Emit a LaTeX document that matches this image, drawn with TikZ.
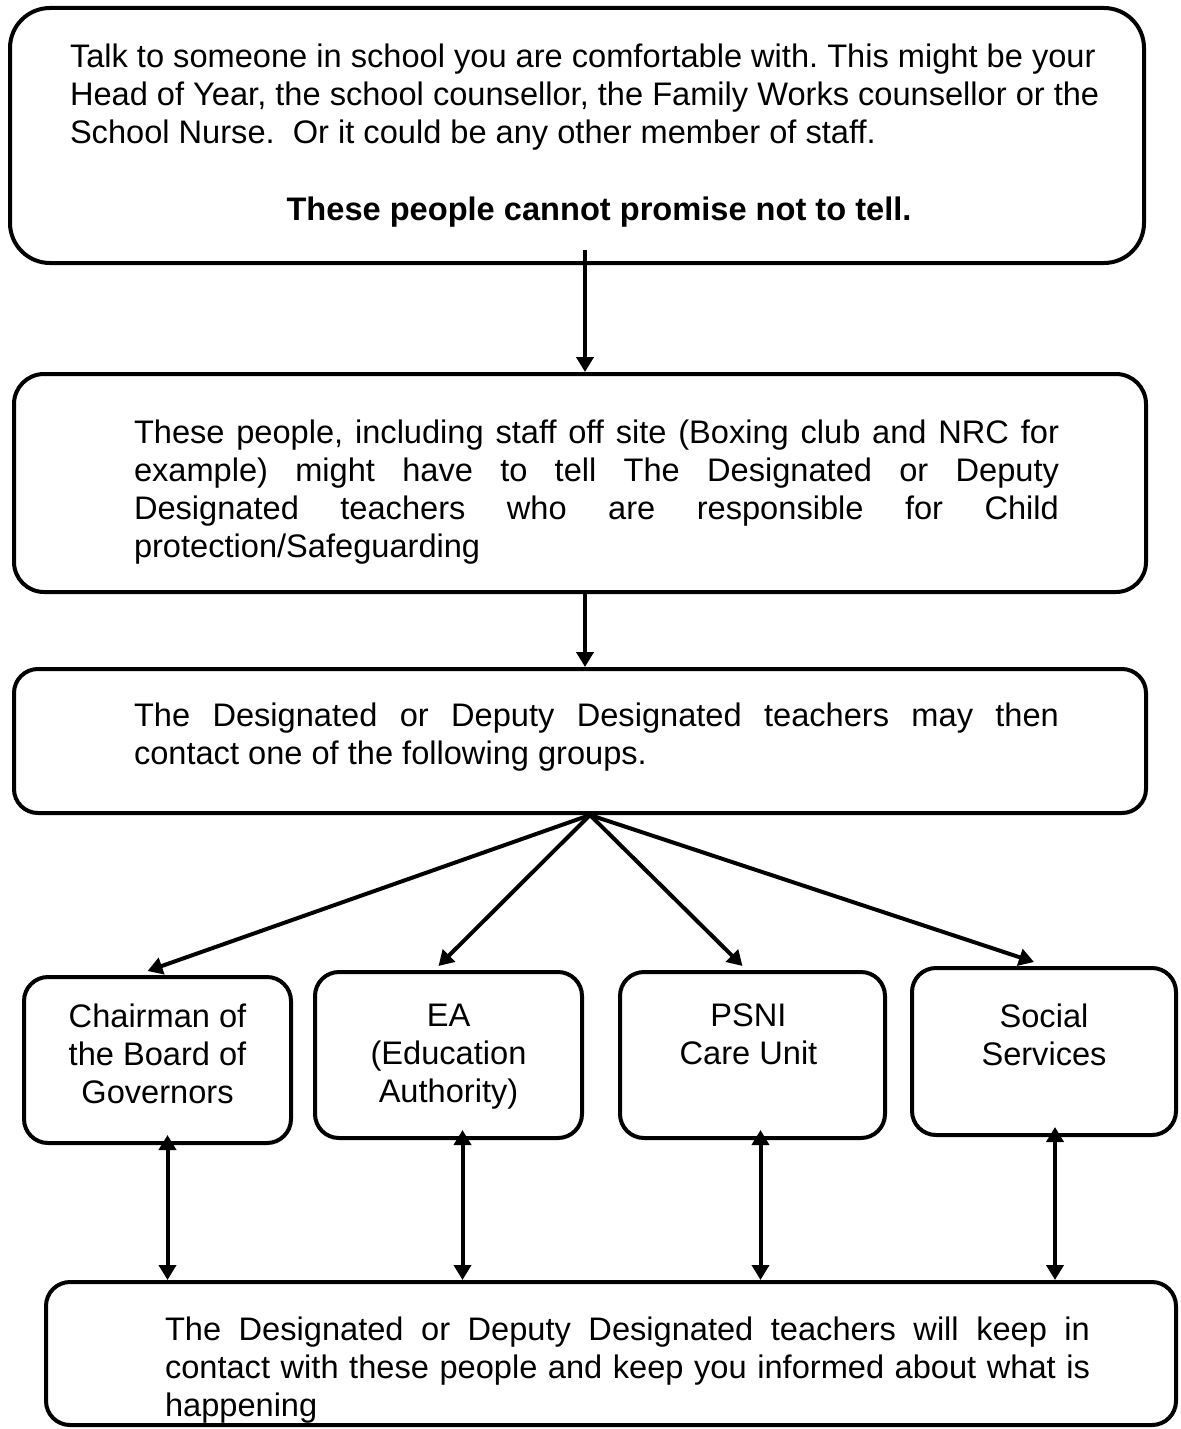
\documentclass[tikz,border=0pt]{standalone}
\usepackage{fontspec}
\setmainfont{Liberation Sans}
\usetikzlibrary{arrows.meta,positioning}
\frenchspacing

\begin{document}
\begin{tikzpicture}[x=0.5pt, y=-0.5pt, line width=2pt,
    >={Triangle[length=7.5pt,width=8.5pt]},
    box/.style={draw, rounded corners=12pt, inner sep=0pt},
    txt/.style={inner sep=0pt, font=\fontsize{16.3}{19}\selectfont},
    para/.style={txt, anchor=north west, text width=462.5pt, align=justify},
    flow/.style={->},
    both/.style={<->}]
  \useasboundingbox (0,0) rectangle (1180,1429);

  % boxes
  \node[box, rounded corners=20pt, minimum width=567pt, minimum height=127.5pt] (b1) at (577,135.5) {};
  \node[box, rounded corners=15pt, minimum width=566pt, minimum height=109pt] (b2) at (580,483) {};
  \node[box, minimum width=566pt, minimum height=72pt] (b3) at (580,741) {};
  \node[box, minimum width=133.5pt, minimum height=83pt] (b4) at (157.5,1060) {};
  \node[box, minimum width=133.5pt, minimum height=83pt] (b5) at (448.5,1055) {};
  \node[box, minimum width=132.5pt, minimum height=83pt] (b6) at (752.5,1055) {};
  \node[box, minimum width=132pt, minimum height=83.5pt] (b7) at (1044,1051.5) {};
  \node[box, minimum width=565pt, minimum height=71.5pt] (b8) at (611,1353.5) {};

  % texts
  \node[txt, anchor=north west, align=left] (t1) at (68,42)
    {Talk to someone in school you are comfortable with. This might be your\\
     Head of Year, the school counsellor, the Family Works counsellor or the\\
     School Nurse.\ \ Or it could be any other member of staff.};
  \node[txt, anchor=north, font=\fontsize{16.3}{19}\selectfont\bfseries] (t1b) at (599,195)
    {These people cannot promise not to tell.};
  \node[para] (t2) at (132,418)
    {These people, including staff off site (Boxing club and NRC for\linebreak
     example) might have to tell The Designated or Deputy\linebreak
     Designated teachers who are responsible for Child\linebreak
     protection/Safeguarding};
  \node[para] (t3) at (132,701)
    {The Designated or Deputy Designated teachers may then\linebreak
     contact one of the following groups.};
  \node[txt, anchor=north, align=center] (t4) at ([yshift=-13.5pt]b4.north)
    {Chairman of\\the Board of\\Governors};
  \node[txt, anchor=north, align=center] (t5) at ([yshift=-16pt]b5.north)
    {EA\\(Education\\Authority)};
  \node[txt, anchor=north, align=center] (t6) at ([xshift=-2pt,yshift=-16pt]b6.north)
    {PSNI\\Care Unit};
  \node[txt, anchor=north, align=center] (t7) at ([yshift=-18pt]b7.north)
    {Social\\Services};
  \node[para] (t8) at (163,1315)
    {The Designated or Deputy Designated teachers will keep in\linebreak
     contact with these people and keep you informed about what is\linebreak
     happening};

  % connectors
  \coordinate (spine) at (585,0);
  \draw[flow] ([yshift=7.5pt]b1.south -| spine) -- (b2.north -| spine);
  \draw[flow] (b2.south -| spine) -- (b3.north -| spine);
  \coordinate (fan) at ([xshift=5pt]b3.south);
  \foreach \b in {b4,b5,b6,b7}
    \draw[flow] (fan) -- ([xshift=-5pt,yshift=2pt]\b.north);
  \foreach \b/\dx in {b4/5pt,b5/7pt,b6/4pt,b7/5.5pt}
    \draw[both] ([xshift=\dx,yshift=5pt]\b.south) -- ([xshift=\dx]\b.south |- b8.north);
\end{tikzpicture}
\end{document}
